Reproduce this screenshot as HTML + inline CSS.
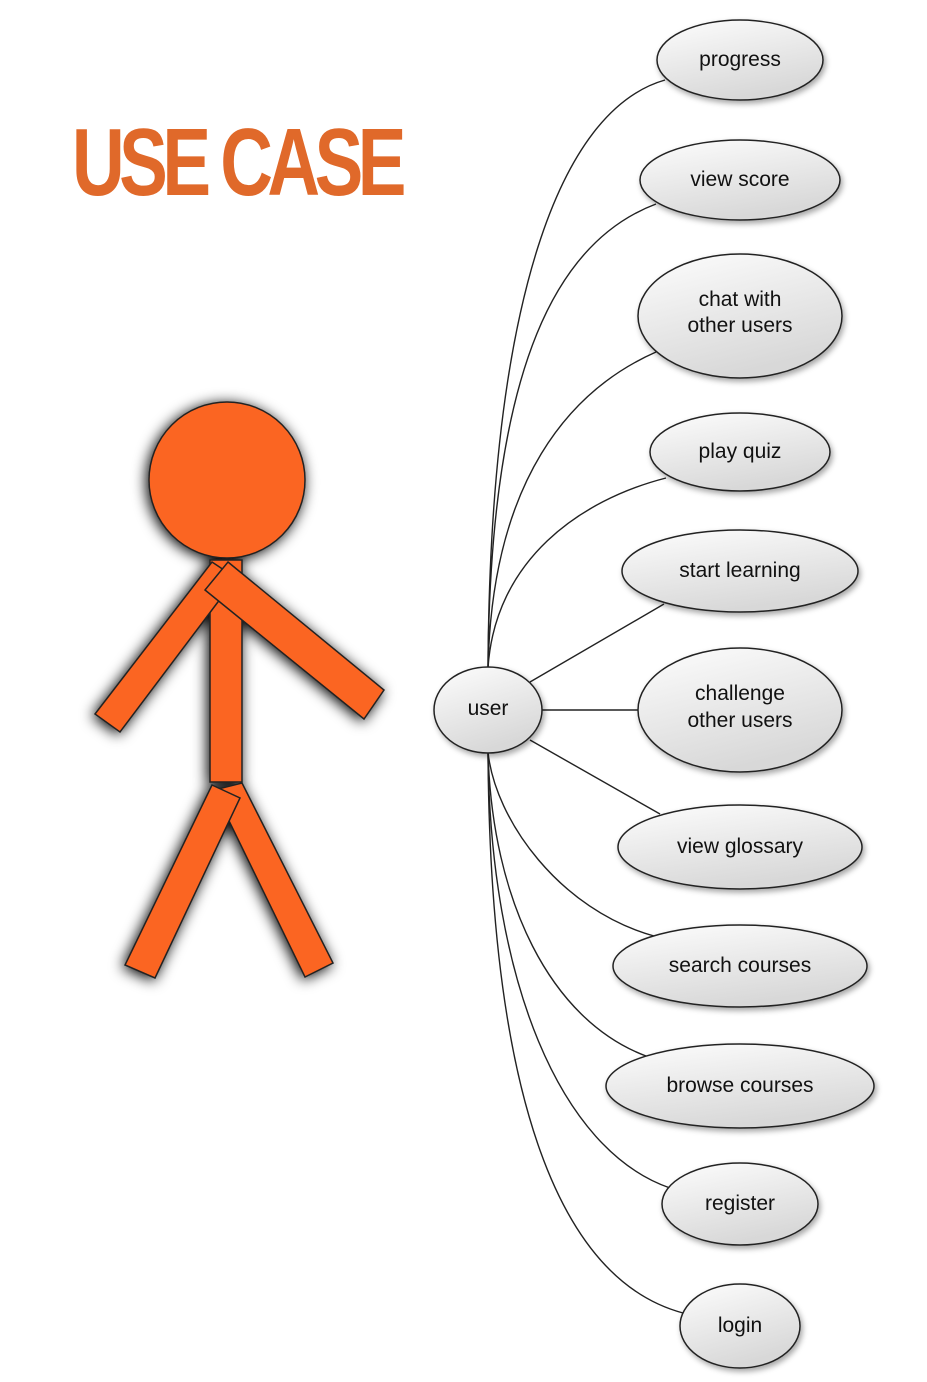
<!DOCTYPE html>
<html><head><meta charset="utf-8"><style>
html,body{margin:0;padding:0;background:#fff;}
svg{display:block;}
</style></head><body>
<svg width="927" height="1382" viewBox="0 0 927 1382" xmlns="http://www.w3.org/2000/svg">
<defs>
<linearGradient id="g" x1="0" y1="0" x2="0.4" y2="1"><stop offset="0" stop-color="#fdfdfd"/><stop offset="1" stop-color="#d8d8d8"/></linearGradient>
<filter id="sh" x="-30%" y="-30%" width="160%" height="160%"><feDropShadow dx="2" dy="3" stdDeviation="3" flood-color="#000" flood-opacity="0.35"/></filter>
<filter id="fs" x="-30%" y="-30%" width="160%" height="160%"><feDropShadow dx="-2" dy="2" stdDeviation="7" flood-color="#000" flood-opacity="1"/></filter>
</defs>
<text x="72" y="195" font-family="Liberation Sans, sans-serif" font-weight="bold" font-size="96" fill="#e0692a" transform="translate(72,0) scale(0.76,1) translate(-72,0)" textLength="440" lengthAdjust="spacing">USE CASE</text>

<g filter="url(#fs)" stroke="#222" stroke-width="1.5" fill="#fb6520">
<polygon points="210,560 242,560 242,782 210,782"/>
<polygon points="212,562 236,578 120,732 95,714"/>
<polygon points="228,562 384,690 364,719 205,590"/>
<polygon points="214,790 242,783 333,963 305,977"/>
<polygon points="212,785 240,798 155,978 125,965"/>
<circle cx="227" cy="480" r="78"/>
</g>

<g fill="none" stroke="#222" stroke-width="1.4">
<path d="M488,668 C490,300 560,110 665,80"/>
<path d="M488,668 C490,360 560,240 656,204"/>
<path d="M488,668 C492,480 570,390 656,352"/>
<path d="M488,668 C495,560 580,500 666,478"/>
<path d="M530,682 L664,604"/>
<path d="M541,710 L638,710"/>
<path d="M530,740 L660,814"/>
<path d="M488,752 C495,820 560,910 654,936"/>
<path d="M488,752 C492,900 550,1020 646,1056"/>
<path d="M488,752 C490,980 560,1150 670,1188"/>
<path d="M488,752 C490,1100 560,1280 683,1313"/>
</g>

<g stroke="#222" stroke-width="1.5" fill="url(#g)" filter="url(#sh)">
<ellipse cx="740" cy="60" rx="83" ry="40"/>
<ellipse cx="740" cy="180" rx="100" ry="40"/>
<ellipse cx="740" cy="316" rx="102" ry="62"/>
<ellipse cx="740" cy="452" rx="90" ry="39"/>
<ellipse cx="740" cy="571" rx="118" ry="41"/>
<ellipse cx="740" cy="710" rx="102" ry="62"/>
<ellipse cx="740" cy="847" rx="122" ry="42"/>
<ellipse cx="740" cy="966" rx="127" ry="41"/>
<ellipse cx="740" cy="1086" rx="134" ry="42"/>
<ellipse cx="740" cy="1204" rx="78" ry="41"/>
<ellipse cx="740" cy="1326" rx="60" ry="42"/>
<ellipse cx="488" cy="710" rx="54" ry="43"/>
</g>

<g font-family="Liberation Sans, sans-serif" font-size="21" fill="#111" text-anchor="middle">
<text x="740" y="66">progress</text>
<text x="740" y="186">view score</text>
<text x="740" y="306">chat with</text>
<text x="740" y="332">other users</text>
<text x="740" y="458">play quiz</text>
<text x="740" y="577">start learning</text>
<text x="740" y="700">challenge</text>
<text x="740" y="727">other users</text>
<text x="740" y="853">view glossary</text>
<text x="740" y="972">search courses</text>
<text x="740" y="1092">browse courses</text>
<text x="740" y="1210">register</text>
<text x="740" y="1332">login</text>
<text x="488" y="715">user</text>
</g>
</svg>
</body></html>
